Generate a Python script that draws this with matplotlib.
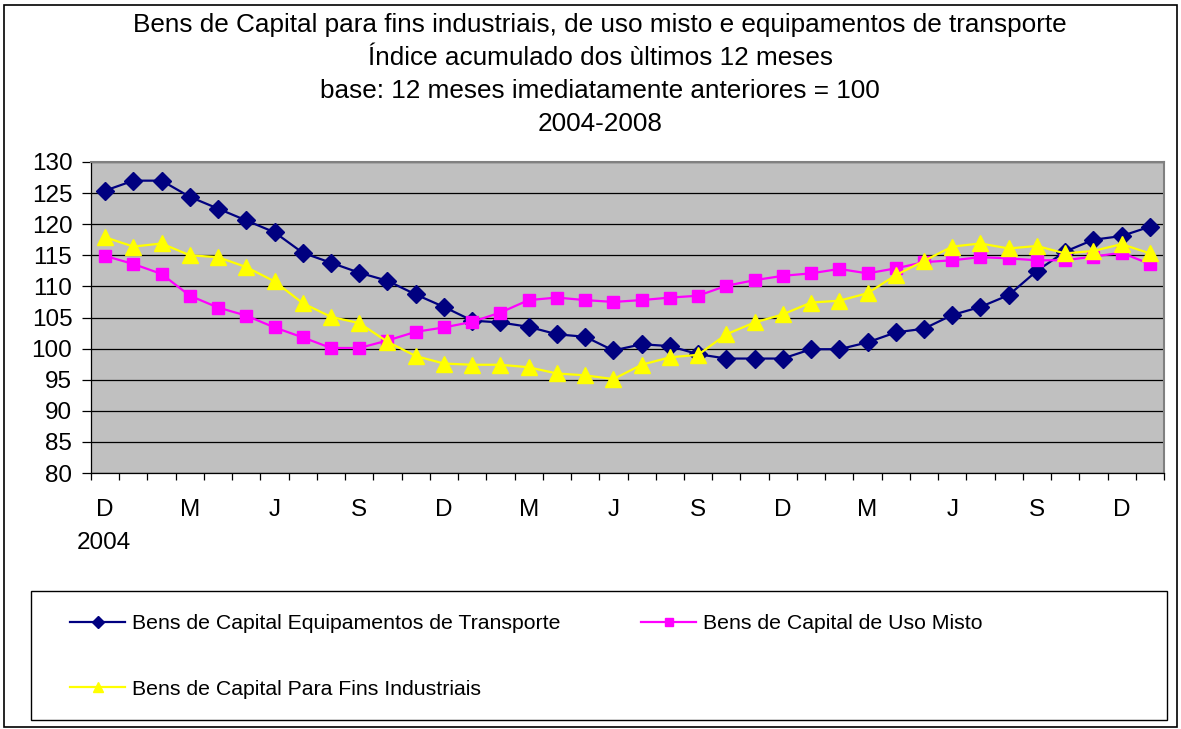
import numpy as np
import matplotlib
matplotlib.use("Agg")
import matplotlib.pyplot as plt
from matplotlib.patches import Rectangle

plt.rcParams['font.family'] = ['Liberation Sans', 'DejaVu Sans']

# monthly values, Dec 2004 .. Jan 2008
transporte = [125.4, 127.0, 127.0, 124.4, 122.5, 120.6, 118.7, 115.4, 113.8, 112.2,
              110.9, 108.7, 106.7, 104.5, 104.2, 103.5, 102.3, 101.9, 99.7, 100.7,
              100.4, 99.1, 98.4, 98.4, 98.4, 99.9, 99.9, 101.0, 102.6, 103.2,
              105.4, 106.7, 108.6, 112.5, 115.6, 117.5, 118.1, 119.6]
uso_misto = [114.9, 113.6, 112.0, 108.5, 106.6, 105.3, 103.4, 101.8, 100.1, 100.1,
             101.3, 102.7, 103.4, 104.3, 105.8, 107.8, 108.2, 107.8, 107.5, 107.8,
             108.2, 108.5, 110.1, 111.0, 111.7, 112.1, 112.8, 112.1, 112.9, 113.9,
             114.2, 114.7, 114.5, 114.2, 114.2, 114.8, 115.4, 113.6]
industriais = [117.9, 116.4, 116.9, 115.0, 114.7, 113.1, 110.8, 107.3, 105.1, 104.1,
               101.1, 98.8, 97.6, 97.4, 97.4, 97.0, 96.0, 95.7, 95.1, 97.4,
               98.6, 99.0, 102.3, 104.2, 105.5, 107.4, 107.7, 108.9, 111.8, 114.1,
               116.4, 116.9, 116.1, 116.5, 115.3, 115.7, 116.8, 115.3]
month_labels = ['D', 'M', 'J', 'S', 'D', 'M', 'J', 'S', 'D', 'M', 'J', 'S', 'D']
title_lines = ['Bens de Capital para fins industriais, de uso misto e equipamentos de transporte',
               'Índice acumulado dos ùltimos 12 meses',
               'base: 12 meses imediatamente anteriores = 100',
               '2004-2008']

W, H = 1181, 729
fig = plt.figure(figsize=(W / 100, H / 100), dpi=100)
ax = fig.add_axes([91 / W, 1 - 473 / H, (1164 - 91) / W, (473 - 162) / H])
ax.set_facecolor('#C0C0C0')

x = np.arange(len(transporte))
l1, = ax.plot(x, transporte, color='#000080', lw=1.6, marker='D', ms=9, zorder=3)
l2, = ax.plot(x, uso_misto, color='#FF00FF', lw=1.6, marker='s', ms=9, zorder=3)
l3, = ax.plot(x, industriais, color='#FFFF00', lw=1.6, marker='^', ms=11, zorder=3)

ax.set_xlim(-0.5, len(x) - 0.5)
ax.set_ylim(80, 130)
ax.set_yticks(np.arange(80, 131, 5))
ax.yaxis.grid(True, color='#000000', lw=0.9)
ax.set_axisbelow(True)
ax.tick_params(axis='y', direction='out', length=6.5, width=0.9, labelsize=17.5, pad=7)

ax.set_xticks(np.arange(0, len(x), 3))
ax.set_xticklabels(month_labels)
ax.set_xticks(np.arange(-0.5, len(x), 1), minor=True)
ax.tick_params(axis='x', which='major', length=0, labelsize=17.5, pad=19)
ax.tick_params(axis='x', which='minor', direction='out', length=5, width=0.9)

for s in ['top', 'right']:
    ax.spines[s].set_color('#808080')
    ax.spines[s].set_linewidth(1.5)
for s in ['left', 'bottom']:
    ax.spines[s].set_color('#000000')
    ax.spines[s].set_linewidth(0.9)

fig.text(104 / W, 1 - 543 / H, '2004', ha='center', va='center', fontsize=17.5)

for i, t in enumerate(title_lines):
    fig.text(600 / W, 1 - (25 + 33 * i) / H, t, ha='center', va='center', fontsize=18.8)

# outer border and legend frame
fig.add_artist(Rectangle((4 / W, 1 - 727 / H), (1177 - 4) / W, (727 - 5) / H,
                         transform=fig.transFigure, fill=False, ec='black', lw=1.2))
fig.add_artist(Rectangle((31 / W, 1 - 720 / H), (1167 - 31) / W, (720 - 591) / H,
                         transform=fig.transFigure, fill=False, ec='black', lw=1))

leg_kw = dict(frameon=False, fontsize=15.3, handlelength=2.6, handletextpad=0.3,
              borderpad=0, borderaxespad=0, labelspacing=2.2, markerscale=0.65,
              loc='upper left')
leg1 = fig.legend([l1, l3], ['Bens de Capital Equipamentos de Transporte',
                             'Bens de Capital Para Fins Industriais'],
                  bbox_to_anchor=(70 / W, 1 - 614 / H), **leg_kw)
leg2 = fig.legend([l2], ['Bens de Capital de Uso Misto'],
                  bbox_to_anchor=(641 / W, 1 - 614 / H), **leg_kw)

fig.savefig('out.png', dpi=100)
